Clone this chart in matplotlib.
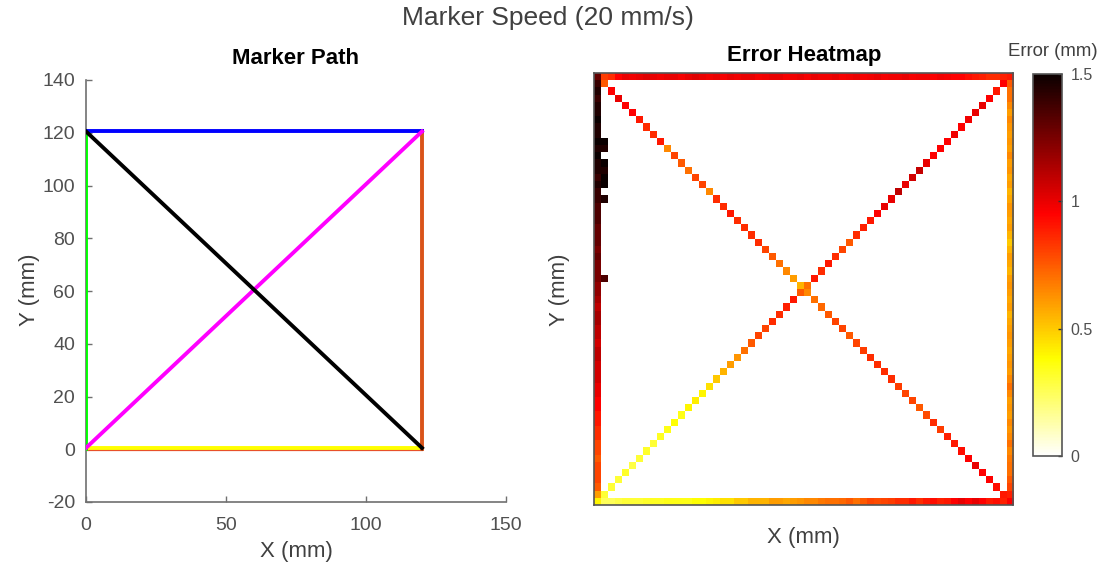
import numpy as np
import matplotlib
matplotlib.use("Agg")
import matplotlib.pyplot as plt

plt.rcParams['font.family'] = ['Liberation Sans', 'DejaVu Sans']
plt.rcParams['axes.unicode_minus'] = False

# ---------------- Marker path (corner points of each segment) ----------------
top_x, top_y = [0, 120], [120.5, 120.5]
left_x, left_y = [0, 0], [0, 120.5]
right_x, right_y = [120, 120], [0, 120.5]
bottom_x, bottom_y = [0, 120], [0.5, 0.5]
diag_up_x, diag_up_y = [0, 120], [0.5, 120.5]
diag_dn_x, diag_dn_y = [0, 120], [120.5, 0.5]

x_ticks = [0, 50, 100, 150]
y_ticks = [-20, 0, 20, 40, 60, 80, 100, 120, 140]

# ---------------- Error heatmap values (mm), 60 x 60 grid ----------------
N = 60
err_bottom = [0.35, 0.25, 0.25, 0.28, 0.3, 0.3, 0.3, 0.32,
              0.33, 0.33, 0.35, 0.35, 0.35, 0.35, 0.38, 0.38, 0.4, 0.42,
              0.45, 0.45, 0.5, 0.5,
              0.55, 0.55, 0.55, 0.6, 0.6, 0.58, 0.6,
              0.62, 0.65, 0.65, 0.68, 0.7,
              0.7, 0.72, 0.75, 0.7, 0.75, 0.8, 0.78, 0.8, 0.82, 0.85,
              0.85, 0.9, 0.85, 0.9, 0.92, 0.88, 0.9, 0.95, 1.0, 0.95,
              1.0, 0.95, 0.9, 0.92, 0.88, 0.9]
err_top = [1.3, 0.82, 0.85, 0.95, 1.0, 0.98, 1.0, 1.02, 1.0, 0.98,
           1.0, 1.0, 0.97, 1.0, 1.02, 1.0, 0.98, 1.0, 0.97, 1.0,
           0.98, 1.0, 1.0, 0.97, 0.98, 1.0, 1.0, 0.97, 0.98, 1.0,
           0.97, 1.0, 0.98, 0.98, 1.0, 0.97, 0.98, 1.0, 0.97, 0.98,
           1.0, 0.97, 0.98, 0.98, 1.0, 0.97, 0.98, 0.98, 0.96, 0.98,
           0.97, 0.95, 0.95, 0.92, 0.9, 0.88, 0.85, 0.85, 0.88, 0.95]
err_left = [0.4, 0.6, 0.75, 0.8, 0.8,
            0.8, 0.75, 0.8, 0.8, 0.85, 0.85, 0.9, 0.9, 0.95, 0.95,
            1.0, 1.0, 1.05, 1.05, 1.05, 1.1, 1.1, 1.05, 1.1, 1.1, 1.15, 1.15, 1.1, 1.15,
            1.2, 1.2, 1.25, 1.25, 1.25, 1.3, 1.25, 1.3, 1.3, 1.3, 1.35, 1.35, 1.35,
            1.4, 1.4, 1.45, 1.4, 1.45, 1.45, 1.5, 1.45, 1.5, 1.45, 1.45, 1.5, 1.45,
            1.45, 1.4, 1.45, 1.4, 1.3]
err_right = [0.95, 0.88, 0.8, 0.75, 0.7, 0.7, 0.68, 0.65, 0.7, 0.65,
             0.62, 0.65, 0.6, 0.62, 0.6, 0.65, 0.7, 0.65, 0.6, 0.62,
             0.6, 0.58, 0.6, 0.62, 0.6, 0.58, 0.55, 0.6, 0.58, 0.6,
             0.62, 0.6, 0.55, 0.58, 0.6, 0.55, 0.5, 0.55, 0.6, 0.58,
             0.6, 0.62, 0.58, 0.55, 0.6, 0.58, 0.62, 0.6, 0.65, 0.6,
             0.62, 0.6, 0.62, 0.65, 0.6, 0.65, 0.7, 0.7, 0.75, 0.9]
err_diag_up = [0.35, 0.3,
               0.3, 0.3, 0.32, 0.28, 0.3, 0.32, 0.3, 0.33,
               0.35, 0.38, 0.35, 0.4, 0.42, 0.4, 0.45,
               0.5, 0.55, 0.6, 0.62,
               0.7, 0.75, 0.8, 0.8, 0.85, 0.85, 0.88, 0.9,
               0.75, 0.7, 0.9,
               0.85, 0.9, 0.85, 0.8, 0.75, 0.85, 0.88, 0.9, 0.95,
               1.0, 1.0, 1.1, 1.0, 1.05, 1.08, 1.0,
               0.95, 0.95, 0.95, 0.98, 0.95, 0.98, 1.0, 1.0, 0.95, 0.9, 0.95, 0.9]
err_diag_dn = [0.8, 0.75,
               0.95, 1.0, 0.95, 0.95, 0.9, 0.85, 0.85,
               0.9, 0.65, 0.8, 0.75, 0.7, 0.8, 0.8, 0.65,
               0.85, 0.85, 0.9, 0.85, 0.85, 0.85, 0.85, 0.8, 0.75, 0.7,
               0.65, 0.6, 0.55, 0.65, 0.7,
               0.72, 0.75, 0.8, 0.8, 0.75, 0.8, 0.82, 0.85, 0.85, 0.85, 0.85, 0.82, 0.8,
               0.8, 0.75, 0.78, 0.85, 0.82, 0.88, 0.9, 0.92, 0.95, 1.0, 0.95, 0.95, 0.92, 0.9, 0.92]
# extra dark cells just right of the left edge (column 1)
extra_rows = [31, 42, 44, 45, 46, 47, 49, 50]
extra_vals = [1.35, 1.45, 1.5, 1.5, 1.45, 1.5, 1.45, 1.5]

grid = np.full((N, N), np.nan)
idx = np.arange(N)
grid[idx, idx] = err_diag_up
grid[N - 1 - idx, idx] = err_diag_dn
grid[0, :] = err_bottom
grid[N - 1, :] = err_top
grid[:, N - 1] = err_right
grid[:, 0] = err_left
grid[extra_rows, 1] = extra_vals

# ---------------- Figure ----------------
W, H = 1102, 571
fig = plt.figure(figsize=(W / 100, H / 100), dpi=100)

def frac(l, t, r, b):
    return [l / W, 1 - b / H, (r - l) / W, (b - t) / H]

gray = '#404040'
tick_gray = '#505050'

fig.text(548 / W, 1 - 18 / H, 'Marker Speed (20 mm/s)', ha='center', va='center',
         fontsize=19, color=gray)

# Left panel
ax1 = fig.add_axes(frac(86, 80, 506, 502))
lw = 2.8
ax1.plot(bottom_x, [v - 0.8 for v in bottom_y], color='#E8502A', lw=1.6, zorder=2)
ax1.plot(bottom_x, bottom_y, color='#FFFF00', lw=lw, zorder=3)
ax1.plot(left_x, left_y, color='#00FF00', lw=lw, zorder=3)
ax1.plot(right_x, right_y, color='#D95319', lw=lw, zorder=3)
ax1.plot(top_x, top_y, color='#0000FF', lw=lw, zorder=3)
ax1.plot(diag_up_x, diag_up_y, color='#FF00FF', lw=lw, zorder=3)
ax1.plot(diag_dn_x, diag_dn_y, color='#000000', lw=lw, zorder=4)
ax1.set_xlim(0, 150)
ax1.set_ylim(-20, 140)
ax1.set_xticks(x_ticks)
ax1.set_yticks(y_ticks)
ax1.tick_params(direction='in', length=4, width=1, colors='#707070',
                labelcolor=tick_gray, labelsize=14)
ax1.tick_params(axis='x', pad=11)
ax1.tick_params(axis='y', pad=8)
for s in ['top', 'right']:
    ax1.spines[s].set_visible(False)
for s in ['left', 'bottom']:
    ax1.spines[s].set_color('#707070')
    ax1.spines[s].set_linewidth(1.2)
fig.text(296 / W, 1 - 58 / H, 'Marker Path', ha='center', va='center',
         fontsize=16, fontweight='bold', color='black')
fig.text(30 / W, 1 - 290 / H, 'Y (mm)', ha='center', va='center', rotation=90,
         fontsize=16, color=gray)
fig.text(296 / W, 1 - 552 / H, 'X (mm)', ha='center', va='center',
         fontsize=16, color=gray)

# Right panel: heatmap
cmap = plt.get_cmap('hot_r').copy()
cmap.set_bad('white')
ax2 = fig.add_axes(frac(594, 73, 1013, 505))
im = ax2.imshow(np.ma.masked_invalid(grid), cmap=cmap, vmin=0, vmax=1.5,
                origin='lower', aspect='auto', interpolation='nearest')
ax2.set_xticks([])
ax2.set_yticks([])
for s in ax2.spines.values():
    s.set_color('#555555')
    s.set_linewidth(1.2)
fig.text(804 / W, 1 - 56 / H, 'Error Heatmap', ha='center', va='center',
         fontsize=16, fontweight='bold', color='black')
fig.text(560 / W, 1 - 290 / H, 'Y (mm)', ha='center', va='center', rotation=90,
         fontsize=16, color=gray)
fig.text(803 / W, 1 - 537 / H, 'X (mm)', ha='center', va='center',
         fontsize=16, color=gray)

cax = fig.add_axes(frac(1033, 74, 1062, 456))
cb = fig.colorbar(im, cax=cax)
cb.set_ticks([0, 0.5, 1, 1.5])
cb.set_ticklabels(['0', '0.5', '1', '1.5'])
cax.tick_params(direction='in', length=3, width=1, colors='#333333',
                labelcolor=tick_gray, labelsize=11.5, pad=6)
cb.outline.set_edgecolor('#555555')
cb.outline.set_linewidth(1.2)
fig.text(1053 / W, 1 - 52 / H, 'Error (mm)', ha='center', va='center',
         fontsize=13.4, color=gray)

fig.savefig('out.png', dpi=100)
